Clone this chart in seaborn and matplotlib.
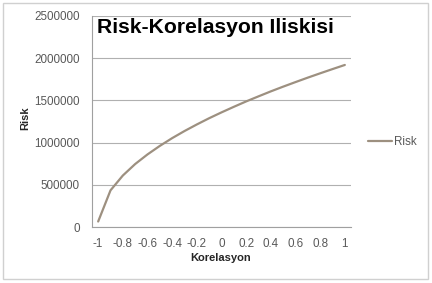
import matplotlib
matplotlib.use("Agg")
import matplotlib.pyplot as plt
import seaborn as sns
import pandas as pd
from matplotlib.patches import Rectangle

korelasyon = [-1.0, -0.9, -0.8, -0.7, -0.6, -0.5, -0.4, -0.3, -0.2, -0.1, 0.0,
              0.1, 0.2, 0.3, 0.4, 0.5, 0.6, 0.7, 0.8, 0.9, 1.0]
risk = [65000, 434000, 610000, 746000, 860000, 961000, 1053000, 1137000, 1215000,
        1289000, 1358000, 1424000, 1488000, 1548000, 1607000, 1663000, 1717000,
        1770000, 1821000, 1871000, 1920000]
x_ticks = [-1, -0.8, -0.6, -0.4, -0.2, 0, 0.2, 0.4, 0.6, 0.8, 1]
x_tick_labels = ["-1", "-0.8", "-0.6", "-0.4", "-0.2", "0", "0.2", "0.4", "0.6", "0.8", "1"]
y_ticks = [0, 500000, 1000000, 1500000, 2000000, 2500000]
y_tick_labels = ["0", "500000", "1000000", "1500000", "2000000", "2500000"]

df = pd.DataFrame({"Korelasyon": korelasyon, "Risk": risk})

sns.set_theme(style="white")
plt.rcParams['font.family'] = ['Liberation Sans', 'DejaVu Sans']

W, H = 432, 283
fig = plt.figure(figsize=(W / 100, H / 100), dpi=100)
fig.patch.set_facecolor("white")

# outer chart border
fig.patches.append(Rectangle((3 / W, 4 / H), 425 / W, 276 / H, transform=fig.transFigure,
                             fill=False, edgecolor="#d0d0d0", linewidth=1.0))

ax = fig.add_axes([92 / W, 56 / H, 259 / W, 211 / H])
line_color = "#9d9080"
sns.lineplot(data=df, x="Korelasyon", y="Risk", ax=ax, color=line_color,
             linewidth=1.6, label="Risk")

ax.set_xlim(-1.05, 1.05)
ax.set_ylim(0, 2500000)
ax.set_xticks(x_ticks)
ax.set_xticklabels(x_tick_labels)
ax.set_yticks(y_ticks)
ax.set_yticklabels(y_tick_labels)
ax.tick_params(axis="both", length=0, labelsize=8.4, colors="#595959")
ax.tick_params(axis="y", pad=9)
ax.tick_params(axis="x", pad=8)
ax.yaxis.grid(True, color="#b0b0b0", linewidth=0.8)
ax.xaxis.grid(False)
for s in ["top", "right"]:
    ax.spines[s].set_visible(False)
for s in ["left", "bottom"]:
    ax.spines[s].set_color("#a0a0a0")
    ax.spines[s].set_linewidth(0.8)

ax.set_xlabel("")
ax.set_ylabel("")
fig.text(221 / W, 1 - 258 / H, "Korelasyon", ha="center", va="center",
         fontsize=8, fontweight="bold", color="#262626")
fig.text(25 / W, 1 - 118 / H, "Risk", ha="center", va="center", rotation=90,
         fontsize=8, fontweight="bold", color="#262626")
fig.text(97 / W, 1 - 32.7 / H, "Risk-Korelasyon Iliskisi", ha="left", va="baseline",
         fontsize=15.2, fontweight="bold", color="black")

leg = ax.legend(loc="center left", bbox_to_anchor=(363.3 / W, 1 - 142 / H),
                bbox_transform=fig.transFigure, frameon=False, fontsize=8.4,
                handlelength=2.1, handletextpad=0.1, borderaxespad=0)
for t in leg.get_texts():
    t.set_color("#595959")

fig.savefig("out.png", dpi=100, facecolor="white")
